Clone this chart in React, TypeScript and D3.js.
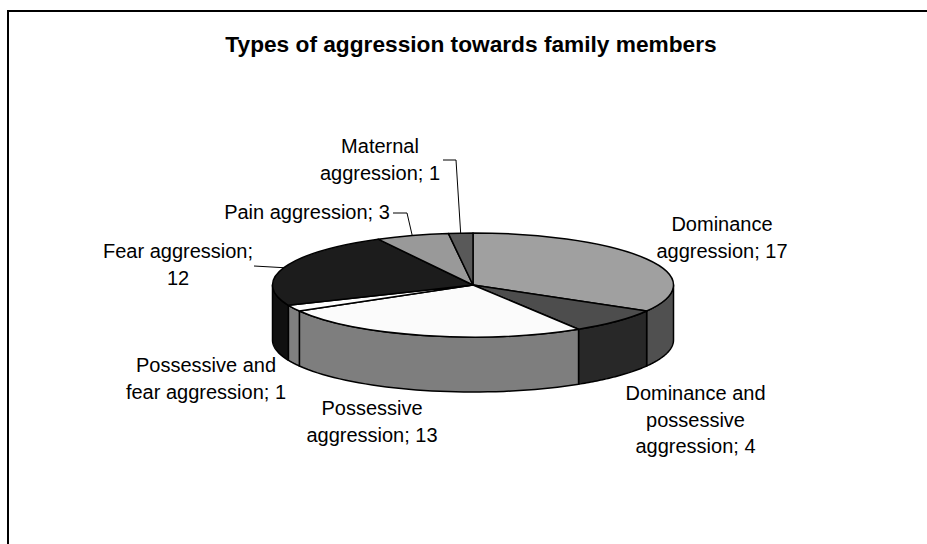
import * as d3 from 'd3';

const width = 927;
const height = 544;

const titleText = 'Types of aggression towards family members';

// slice values, clockwise from 12 o'clock
const categories = [
  'Dominance aggression',
  'Dominance and possessive aggression',
  'Possessive aggression',
  'Possessive and fear aggression',
  'Fear aggression',
  'Pain aggression',
  'Maternal aggression',
];
const values = [17, 4, 13, 1, 12, 3, 1];
const topFills = ['#a0a0a0', '#4d4d4d', '#fbfbfb', '#fdfdfd', '#1c1c1c', '#999999', '#595959'];
const sideFills = ['#505050', '#282828', '#7e7e7e', '#808080', '#101010', '#4d4d4d', '#2d2d2d'];

const labelLines = [
  ['Dominance', 'aggression; 17'],
  ['Dominance and', 'possessive', 'aggression; 4'],
  ['Possessive', 'aggression; 13'],
  ['Possessive and', 'fear aggression; 1'],
  ['Fear aggression;', '12'],
  ['Pain aggression; 3'],
  ['Maternal', 'aggression; 1'],
];
const labelCenterX = [722, 695.5, 372, 206, 178, 307, 380];
const labelBaseY = [231, 400, 415, 372, 258, 219, 153];

// leader lines: slice index, start of the line, elbow x
const leaders = [
  { slice: 4, x: 254, y: 266, elbow: 254 },
  { slice: 5, x: 393, y: 213, elbow: 407 },
  { slice: 6, x: 443, y: 160, elbow: 456 },
];

const cx = 473;
const cy = 285;
const rx = 200.5;
const ry = 52;
const depth = 55;

const project = (a: number, dy = 0): [number, number] => [
  cx + rx * Math.sin(a),
  cy - ry * Math.cos(a) + dy,
];

export default function App() {
  const pie = d3.pie<number>().value((d) => d).sort(null);
  const slices = pie(values);

  const arc = d3.arc<d3.PieArcDatum<number>>().innerRadius(0).outerRadius(rx);
  const line = d3.line();

  // the wall is only visible on the front half of the ellipse
  const sidePath = (d: d3.PieArcDatum<number>) => {
    const a0 = Math.max(d.startAngle, Math.PI / 2);
    const a1 = Math.min(d.endAngle, (3 * Math.PI) / 2);
    if (a1 <= a0) return null;
    const steps = d3.range(0, 1.0001, 1 / 40).map((t) => a0 + (a1 - a0) * t);
    const pts = [...steps.map((a) => project(a)), ...steps.reverse().map((a) => project(a, depth))];
    return line(pts) + 'Z';
  };

  return (
    <svg
      width={width}
      height={height}
      style={{ position: 'fixed', left: 0, top: 0, background: '#fff' }}
      fontFamily="'Liberation Sans', Arial, sans-serif"
    >
      {/* frame: only top and left edges are in the crop */}
      <path d={`M8,${height}V11H${width}`} fill="none" stroke="#000" strokeWidth={2} />

      <text x={471} y={52} textAnchor="middle" fontSize={22.7} fontWeight={700} fill="#000">
        {titleText}
      </text>

      <g stroke="#000" strokeWidth={1.5} strokeLinejoin="round">
        {slices.map((d, i) => {
          const p = sidePath(d);
          return p ? <path key={categories[i]} d={p} fill={sideFills[i]} /> : null;
        })}
      </g>

      <g transform={`translate(${cx},${cy}) scale(1,${ry / rx})`}>
        {slices.map((d, i) => (
          <path
            key={categories[i]}
            d={arc(d) ?? ''}
            fill={topFills[i]}
            stroke="#000"
            strokeWidth={1.5}
            strokeLinejoin="round"
            vectorEffect="non-scaling-stroke"
          />
        ))}
      </g>

      <g fill="none" stroke="#000" strokeWidth={1}>
        {leaders.map((l) => {
          const s = slices[l.slice];
          const end = project((s.startAngle + s.endAngle) / 2);
          return <path key={l.slice} d={line([[l.x, l.y], [l.elbow, l.y], end]) ?? ''} />;
        })}
      </g>

      <g fontSize={20} fill="#000" textAnchor="middle">
        {labelLines.map((lines, i) => (
          <text key={categories[i]} y={labelBaseY[i]}>
            {lines.map((t, j) => (
              <tspan key={t} x={labelCenterX[i]} dy={j === 0 ? 0 : 26.5}>
                {t}
              </tspan>
            ))}
          </text>
        ))}
      </g>
    </svg>
  );
}
